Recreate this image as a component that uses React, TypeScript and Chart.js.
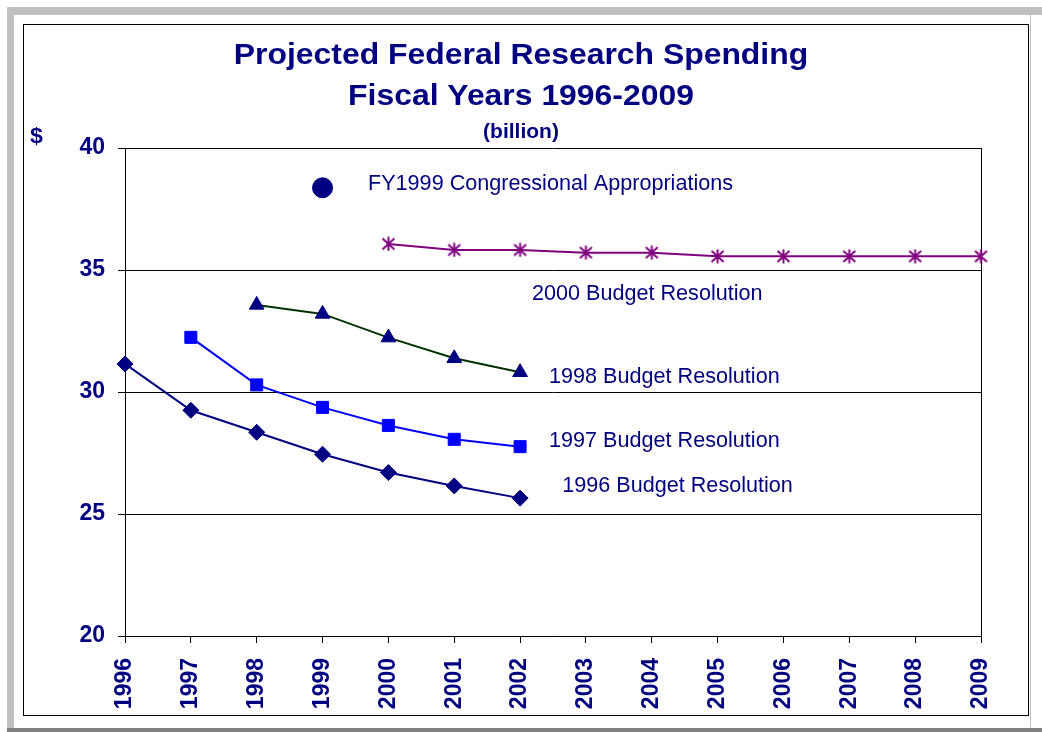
import React, { useEffect, useRef } from 'react';
import { Chart, registerables } from 'chart.js';

Chart.register(...registerables);

// ---------- data ----------
const years = ['1996', '1997', '1998', '1999', '2000', '2001', '2002', '2003', '2004', '2005', '2006', '2007', '2008', '2009'];
const yTickValues = [20, 25, 30, 35, 40];

const budget1996 = [31.15, 29.25, 28.35, 27.45, 26.7, 26.15, 25.65, null, null, null, null, null, null, null];
const budget1997 = [null, 32.24, 30.29, 29.37, 28.63, 28.06, 27.76, null, null, null, null, null, null, null];
const budget1998 = [null, null, 33.57, 33.2, 32.23, 31.38, 30.81, null, null, null, null, null, null, null];
const budget2000 = [null, null, null, null, 36.07, 35.82, 35.82, 35.71, 35.71, 35.56, 35.56, 35.56, 35.56, 35.56];
const fy1999Approps = [null, null, null, 38.37, null, null, null, null, null, null, null, null, null, null];

const titleLines = ['Projected Federal Research Spending', 'Fiscal Years 1996-2009'];
const subtitleText = '(billion)';
const yUnitText = '$';

// series labels placed in data coordinates (x = fractional year index, y = value at baseline)
const seriesNotes = [
  { text: 'FY1999 Congressional Appropriations', x: 3.69, y: 38.28 },
  { text: '2000 Budget Resolution', x: 6.18, y: 33.77 },
  { text: '1998 Budget Resolution', x: 6.44, y: 30.37 },
  { text: '1997 Budget Resolution', x: 6.44, y: 27.75 },
  { text: '1996 Budget Resolution', x: 6.64, y: 25.9 },
];

const NAVY = '#000080';
const FONT = "'Liberation Sans', Arial, Helvetica, sans-serif";

function makeAsterisk(color: string) {
  const c = document.createElement('canvas');
  c.width = 15;
  c.height = 15;
  const g = c.getContext('2d')!;
  g.strokeStyle = color;
  g.lineWidth = 2;
  g.beginPath();
  g.moveTo(1.5, 2);
  g.lineTo(13.5, 13);
  g.moveTo(13.5, 2);
  g.lineTo(1.5, 13);
  g.moveTo(7.5, 0.5);
  g.lineTo(7.5, 14.5);
  g.stroke();
  return c;
}

function drawText(ctx: CanvasRenderingContext2D, text: string, x: number, y: number, font: string, align: CanvasTextAlign, sx: number, color: string) {
  ctx.save();
  ctx.font = font;
  ctx.fillStyle = color;
  ctx.textAlign = align;
  ctx.textBaseline = 'alphabetic';
  ctx.translate(x, y);
  ctx.scale(sx, 1);
  ctx.fillText(text, 0, 0);
  ctx.restore();
}

const framePlugin = {
  id: 'frame',
  beforeDraw(chart: any) {
    const { ctx, width: W, height: H } = chart;
    ctx.save();
    ctx.fillStyle = '#ffffff';
    ctx.fillRect(0, 0, W, H);
    ctx.fillStyle = '#c0c0c0';
    ctx.fillRect(7, 7, W - 7, 8);
    ctx.fillRect(7, 7, 7, H - 7);
    ctx.fillRect(1030, 15, 1, 713);
    ctx.fillStyle = '#808080';
    ctx.fillRect(7, 728, W - 7, 4);
    ctx.strokeStyle = '#000000';
    ctx.lineWidth = 1;
    ctx.strokeRect(23.5, 24.5, 1005, 691);
    ctx.restore();

    drawText(ctx, titleLines[0], W / 2, 64, `bold 29px ${FONT}`, 'center', 1.1, NAVY);
    drawText(ctx, titleLines[1], W / 2, 105, `bold 29px ${FONT}`, 'center', 1.1, NAVY);
    drawText(ctx, subtitleText, W / 2, 138, `bold 20px ${FONT}`, 'center', 1.05, NAVY);
    drawText(ctx, yUnitText, 30, 143, `bold 22px ${FONT}`, 'left', 1.05, NAVY);
  },
  beforeDatasetsDraw(chart: any) {
    const { ctx, chartArea: a } = chart;
    ctx.save();
    ctx.strokeStyle = '#000000';
    ctx.lineWidth = 1;
    ctx.beginPath();
    ctx.moveTo(Math.round(a.right) + 0.5, a.top);
    ctx.lineTo(Math.round(a.right) + 0.5, a.bottom);
    ctx.stroke();
    ctx.restore();
  },
  afterDraw(chart: any) {
    const { ctx, chartArea: a, scales } = chart;
    const step = (a.right - a.left) / (years.length - 1);
    seriesNotes.forEach((n) => {
      const x = a.left + n.x * step;
      const y = scales.y.getPixelForValue(n.y);
      drawText(ctx, n.text, x, y, `21.4px ${FONT}`, 'left', 1.01, NAVY);
    });
  },
};

export default function App() {
  const ref = useRef<HTMLCanvasElement>(null);

  useEffect(() => {
    document.body.style.margin = '0';
    const canvas = ref.current!;
    const asterisk = makeAsterisk('#800080');

    const lineBase = {
      borderWidth: 2,
      tension: 0,
      spanGaps: false,
      clip: false as any,
      pointBorderWidth: 1,
    };

    const chart = new Chart(canvas, {
      type: 'line',
      data: {
        labels: years,
        datasets: [
          {
            ...lineBase,
            label: '1996 Budget Resolution',
            data: budget1996,
            borderColor: NAVY,
            backgroundColor: NAVY,
            pointStyle: 'rectRot',
            pointRadius: 8,
            pointHoverRadius: 8,
          },
          {
            ...lineBase,
            label: '1997 Budget Resolution',
            data: budget1997,
            borderColor: '#0000ff',
            backgroundColor: '#0000ff',
            pointStyle: 'rect',
            pointRadius: 8.5,
            pointHoverRadius: 8.5,
          },
          {
            ...lineBase,
            label: '1998 Budget Resolution',
            data: budget1998,
            borderColor: '#003300',
            backgroundColor: NAVY,
            pointBorderColor: NAVY,
            pointBackgroundColor: NAVY,
            pointStyle: 'triangle',
            pointRadius: 8.5,
            pointHoverRadius: 8.5,
          },
          {
            ...lineBase,
            label: '2000 Budget Resolution',
            data: budget2000,
            borderColor: '#800080',
            backgroundColor: '#800080',
            pointStyle: asterisk as any,
            pointRadius: 7,
            pointHoverRadius: 7,
          },
          {
            ...lineBase,
            label: 'FY1999 Congressional Appropriations',
            data: fy1999Approps,
            borderColor: NAVY,
            backgroundColor: NAVY,
            showLine: false,
            pointStyle: 'circle',
            pointRadius: 10,
            pointHoverRadius: 10,
          },
        ] as any,
      },
      plugins: [framePlugin],
      options: {
        responsive: false,
        animation: false,
        events: [],
        layout: { padding: { left: 0, top: 148, right: 61, bottom: 0 } },
        plugins: {
          legend: { display: false },
          title: { display: false },
          tooltip: { enabled: false },
        },
        scales: {
          x: {
            type: 'category',
            offset: false,
            grid: {
              display: true,
              drawOnChartArea: false,
              drawTicks: true,
              tickLength: 7,
              color: '#000000',
              offset: false,
            },
            border: { display: true, color: '#000000', width: 1 },
            ticks: {
              autoSkip: false,
              minRotation: 90,
              maxRotation: 90,
              padding: 15,
              color: NAVY,
              font: { family: FONT, size: 23, weight: 'bold' },
            },
            afterFit(scale: any) {
              scale.height = 96;
            },
          },
          y: {
            min: 20,
            max: 40,
            afterBuildTicks(scale: any) {
              scale.ticks = yTickValues.map((v) => ({ value: v }));
            },
            grid: {
              display: true,
              drawOnChartArea: true,
              drawTicks: true,
              tickLength: 7,
              color: '#000000',
              lineWidth: 1,
            },
            border: { display: true, color: '#000000', width: 1 },
            ticks: {
              padding: 13,
              color: NAVY,
              font: { family: FONT, size: 23, weight: 'bold' },
            },
            afterFit(scale: any) {
              scale.width = 125;
            },
          },
        },
      } as any,
    });

    return () => chart.destroy();
  }, []);

  return <canvas ref={ref} width={1042} height={732} style={{ display: 'block' }} />;
}
